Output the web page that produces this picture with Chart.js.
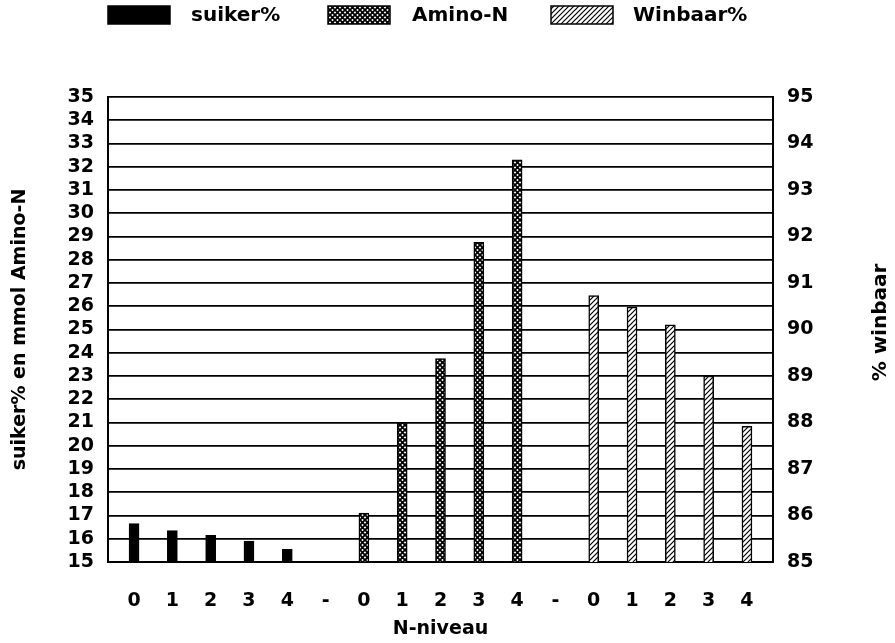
<!DOCTYPE html>
<html>
<head>
<meta charset="utf-8">
<script src="https://cdn.jsdelivr.net/npm/chart.js@4.4.1/dist/chart.umd.min.js"></script>
<style>
    html, body { margin: 0; padding: 0; background: #fff; }
    #wrap { width: 895px; height: 643px; }
</style>
</head>
<body>
<div id="wrap"><canvas id="myChart"></canvas></div>
<script>
// categories along the x axis (three groups of N-niveau 0..4)
var categories = ['0', '1', '2', '3', '4', '-', '0', '1', '2', '3', '4', '-', '0', '1', '2', '3', '4'];
var groupStart = [0, 6, 12];

// values
var suiker = [16.65, 16.35, 16.15, 15.9, 15.55];
var aminoN = [17.1, 21.0, 23.75, 28.75, 32.3];
var winbaar = [90.73, 90.48, 90.1, 89.0, 87.92];

// axis ranges
var leftTicks = [15, 35];
var rightTicks = [85, 95];

function points(values, start) {
    return values.map((v, i) => ({ x: start + i, y: v }));
}

function makePattern(kind) {
    var c = document.createElement('canvas');
    c.width = 5;
    c.height = 5;
    var g = c.getContext('2d');
    g.fillStyle = '#fff';
    g.fillRect(0, 0, 5, 5);
    g.strokeStyle = '#000';
    g.beginPath();
    if (kind == 'cross') {
        g.lineWidth = 1.8;
        g.moveTo(0, 0); g.lineTo(5, 5);
        g.moveTo(5, 0); g.lineTo(0, 5);
    } else {
        g.lineWidth = 1.2;
        g.moveTo(0, 5); g.lineTo(5, 0);
        g.moveTo(-1, 1); g.lineTo(1, -1);
        g.moveTo(4, 6); g.lineTo(6, 4);
    }
    g.stroke();
    return g.createPattern(c, 'repeat');
}

var FONT = "'DejaVu Sans', sans-serif";
Chart.defaults.font.family = FONT;
Chart.defaults.font.weight = 'bold';
Chart.defaults.font.size = 19;
Chart.defaults.color = '#000';

// legend drawn by hand so the boxes sit where the original has them
var legendPlugin = {
    id: 'fixedLegend',
    afterDraw(chart) {
        var ctx = chart.ctx;
        var boxX = [108, 328, 551];
        var textX = [191, 412, 633];
        ctx.save();
        chart.data.datasets.forEach((ds, i) => {
            ctx.fillStyle = ds.backgroundColor;
            ctx.fillRect(boxX[i], 6, 62, 18);
            ctx.strokeStyle = '#000';
            ctx.lineWidth = 1.5;
            ctx.strokeRect(boxX[i], 6, 62, 18);
            ctx.fillStyle = '#000';
            ctx.font = 'bold 20px ' + FONT;
            ctx.textBaseline = 'middle';
            ctx.fillText(ds.label, textX[i], 16);
        });
        // right axis title, reading bottom to top
        var a = chart.chartArea;
        ctx.translate(881, (a.top + a.bottom) / 2 - 7);
        ctx.rotate(-Math.PI / 2);
        ctx.textAlign = 'center';
        ctx.font = 'bold 20px ' + FONT;
        ctx.fillText('% winbaar', 0, 0);
        ctx.restore();
    }
};

var ctx = document.getElementById('myChart');
var myChart = new Chart(ctx, {
    type: 'bar',
    data: {
        datasets: [{
            label: 'suiker%',
            data: points(suiker, groupStart[0]),
            backgroundColor: '#000',
            borderColor: '#000',
            borderWidth: 1.5,
            yAxisID: 'y',
        }, {
            label: 'Amino-N',
            data: points(aminoN, groupStart[1]),
            backgroundColor: makePattern('cross'),
            borderColor: '#000',
            borderWidth: 1.5,
            yAxisID: 'y',
        }, {
            label: 'Winbaar%',
            data: points(winbaar, groupStart[2]),
            backgroundColor: makePattern('hatch'),
            borderColor: '#000',
            borderWidth: 1.5,
            yAxisID: 'y2',
        }],
    },
    options: {
        responsive: true,
        maintainAspectRatio: false,
        animation: false,
        layout: { padding: { top: 97, left: 0, right: 0, bottom: 0 } },
        datasets: { bar: { grouped: false, barThickness: 10 } },
        plugins: {
            legend: { display: false },
            tooltip: { enabled: false },
        },
        scales: {
            x: {
                type: 'linear',
                position: 'bottom',
                offset: false,
                min: -0.68,
                max: categories.length - 1 + 0.68,
                grid: { display: false },
                border: { display: true, color: '#000', width: 2 },
                afterBuildTicks: (s) => { s.ticks = categories.map((c, i) => ({ value: i })); },
                afterFit: (s) => { s.height = 81; },
                ticks: {
                    autoSkip: false,
                    maxRotation: 0,
                    padding: 20,
                    callback: (v) => categories[v],
                },
                title: {
                    display: true,
                    text: 'N-niveau',
                    padding: { top: 0, bottom: 3 },
                },
            },
            y: {
                position: 'left',
                min: leftTicks[0],
                max: leftTicks[1],
                afterFit: (s) => { s.width = 108; },
                ticks: { stepSize: 1, padding: 14, autoSkip: false, font: { size: 19 } },
                grid: { color: '#000', lineWidth: 1.8, drawTicks: false },
                border: { display: true, color: '#000', width: 2 },
                title: {
                    display: true,
                    text: 'suiker% en mmol Amino-N',
                    padding: { top: 9, bottom: 0 },
                },
            },
            y2: {
                position: 'right',
                min: rightTicks[0],
                max: rightTicks[1],
                afterFit: (s) => { s.width = 122; },
                ticks: { stepSize: 1, padding: 14, autoSkip: false },
                grid: { display: false, drawTicks: false },
                border: { display: true, color: '#000', width: 2 },
            },
        },
    },
    plugins: [legendPlugin],
});
</script>
</body>
</html>
